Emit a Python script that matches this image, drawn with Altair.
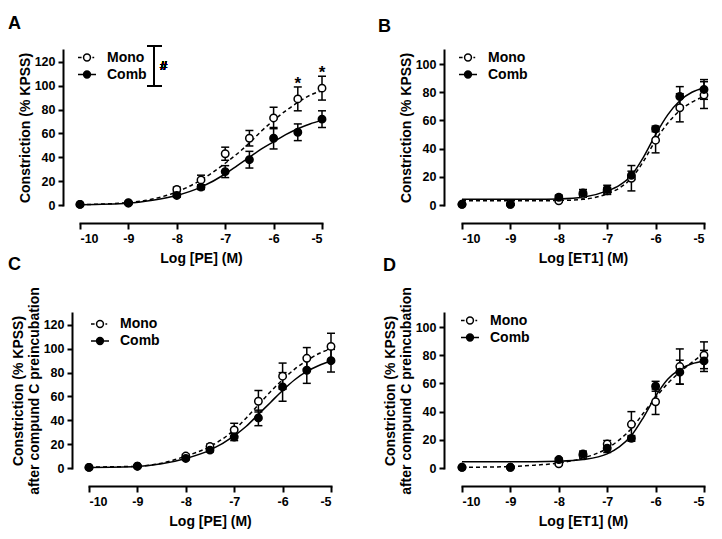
import altair as alt
import pandas as pd

FONT = "Liberation Sans"

# concentrations (log M) of the measured points
LOG_C = [-10, -9, -8, -7.5, -7, -6.5, -6, -5.5, -5]
# x positions at which the fitted curves were read
FIT_X = [-10, -9, -8.5, -8, -7.5, -7, -6.75, -6.5, -6.25, -6, -5.75, -5.5, -5.25, -5]

SERIES = ["Mono", "Comb"]

# Panel A : PE
A_MONO = [0.5, 2, 13, 21, 43, 56, 73, 89, 98]
A_MONO_SEM = [0.5, 1, 2, 4, 5.5, 6.5, 9, 10, 10]
A_COMB = [0.5, 1.5, 8, 15, 28, 38, 56, 61, 72]
A_COMB_SEM = [0.5, 1, 1.5, 2, 5, 7, 9, 7, 7]
A_MONO_FIT = [0.3, 2, 5, 11, 21, 35, 43, 52, 62, 71, 79, 86, 92, 96]
A_COMB_FIT = [0.3, 1.5, 4, 8, 15, 26, 33, 40, 47, 53, 59, 64, 68, 71]
A_STARS = [-5.5, -5]

# Panel B : ET1
B_MONO = [0.5, 0.5, 3, 7.5, 10, 19, 46, 69, 78]
B_MONO_SEM = [0.5, 0.5, 1, 2, 2.5, 9, 9, 10, 9.5]
B_COMB = [0.5, 0.5, 5.5, 8.5, 11, 21, 54, 77, 82]
B_COMB_SEM = [0.5, 0.5, 1.5, 2.5, 3, 3, 2, 7, 7]
B_MONO_FIT = [3, 3, 3, 3.2, 4, 8, 12, 19, 31, 46, 58, 67, 73, 77]
B_COMB_FIT = [4, 4, 4, 4.3, 5.5, 10, 14, 21, 34, 50, 64, 74, 80, 83]

# Panel C : PE after compound C
C_MONO = [0.5, 1.5, 10, 18, 32, 56, 77, 92, 102]
C_MONO_SEM = [0.5, 0.5, 1.5, 2, 5.5, 9, 11, 9, 11]
C_COMB = [0.5, 1.5, 8, 15, 26, 42, 68, 82, 90]
C_COMB_SEM = [0.5, 0.5, 1, 1.5, 3, 6.5, 12, 11, 9.5]
C_MONO_FIT = [0.8, 1.5, 4, 10, 18, 32, 42, 53, 64, 74, 83, 90, 96, 100]
C_COMB_FIT = [0.5, 1.3, 3.5, 8, 15, 27, 35, 45, 55, 65, 74, 81, 86, 90]

# Panel D : ET1 after compound C
D_MONO = [0.5, 0.5, 3, 9, 17, 31, 47, 72, 80]
D_MONO_SEM = [0.5, 0.5, 1, 2, 2.5, 9, 9, 12.5, 9.5]
D_COMB = [0.5, 0.5, 6, 10, 14, 21, 58, 68, 76]
D_COMB_SEM = [0.5, 0.5, 1, 2, 3, 2, 3.5, 8.5, 7.5]
D_MONO_FIT = [0.5, 1, 2, 3.5, 7, 14, 20, 28, 39, 50, 60, 68, 75, 81]
D_COMB_FIT = [4.5, 4.5, 4.5, 4.8, 6, 10, 15, 23, 36, 51, 63, 70, 74, 76]

X_TICKS = [-10, -9, -8, -7, -6, -5]

MONO_PATH = ("M-1,0H-0.6M-0.38,0A0.38,0.38,0,1,0,0.38,0"
             "A0.38,0.38,0,1,0,-0.38,0M0.6,0H0.8")
COMB_PATH = ("M-1,0H1M-0.38,0A0.38,0.38,0,1,0,0.38,0"
             "A0.38,0.38,0,1,0,-0.38,0")


def points_df(mono, mono_sem, comb, comb_sem):
    rows = []
    for s, vals, sems in (("Mono", mono, mono_sem), ("Comb", comb, comb_sem)):
        for x, v, e in zip(LOG_C, vals, sems):
            rows.append({"logc": x, "value": v, "lo": v - e, "hi": v + e, "series": s})
    return pd.DataFrame(rows)


def fit_df(mono_fit, comb_fit):
    rows = []
    for s, vals in (("Mono", mono_fit), ("Comb", comb_fit)):
        for x, v in zip(FIT_X, vals):
            rows.append({"logc": x, "value": v, "series": s})
    return pd.DataFrame(rows)


def panel(letter, title_dx, title_offset, pts, fit, ymax, ytitle, xtitle, width, xrange,
          yoffset, legend_x, legend_y, stars=None, bracket=False):
    xscale = alt.Scale(domain=[-10, -5], range=xrange, nice=False, zero=False)
    yscale = alt.Scale(domain=[0, ymax], nice=False, zero=False)
    yvals = list(range(0, ymax - 9, 20))
    xaxis = alt.Axis(values=X_TICKS, labelExpr="datum.value + ''", title=xtitle,
                     offset=18, tickSize=6, labelPadding=3, titlePadding=7,
                     labelOverlap=False)
    yaxis = alt.Axis(values=yvals, title=ytitle, offset=yoffset, tickSize=5,
                     labelPadding=3, titlePadding=2, titleLineHeight=16,
                     labelOverlap=False, tickCount=len(yvals))

    def X(f="logc"):
        return alt.X(f"{f}:Q", scale=xscale, axis=xaxis)

    def Y(f):
        return alt.Y(f"{f}:Q", scale=yscale, axis=yaxis)

    base = alt.Chart(pts)
    err = base.mark_rule(color="black", strokeWidth=1.5).encode(
        x=X(), y=Y("lo"), y2="hi:Q")
    cap_lo = base.mark_tick(color="black", thickness=1.5, size=8,
                            orient="horizontal", opacity=1).encode(x=X(), y=Y("lo"))
    cap_hi = base.mark_tick(color="black", thickness=1.5, size=8,
                            orient="horizontal", opacity=1).encode(x=X(), y=Y("hi"))
    fitc = alt.Chart(fit)
    mono_line = fitc.transform_filter("datum.series == 'Mono'").mark_line(
        color="black", strokeWidth=1.5, strokeDash=[4, 3], interpolate="monotone"
    ).encode(x=X(), y=Y("value"))
    comb_line = fitc.transform_filter("datum.series == 'Comb'").mark_line(
        color="black", strokeWidth=1.5, interpolate="monotone"
    ).encode(x=X(), y=Y("value"))
    dots = base.mark_circle(size=55, stroke="black", strokeWidth=1.5, opacity=1).encode(
        x=X(), y=Y("value"),
        fill=alt.condition("datum.series == 'Mono'", alt.value("white"), alt.value("black")))

    legend = alt.Legend(title=None, orient="none", legendX=legend_x, legendY=legend_y,
                        padding=0, rowPadding=0, labelOffset=10, labelFont=FONT,
                        labelFontSize=14, labelFontWeight="bold", labelColor="black",
                        symbolSize=324, symbolStrokeWidth=1.5, symbolOpacity=1)
    leg = base.transform_filter("false").mark_point(strokeWidth=1.5).encode(
        x=X(), y=Y("value"),
        shape=alt.Shape("series:N", scale=alt.Scale(domain=SERIES, range=[MONO_PATH, COMB_PATH]),
                        legend=legend),
        fill=alt.Fill("series:N", scale=alt.Scale(domain=SERIES, range=["white", "black"]),
                      legend=legend),
        stroke=alt.Stroke("series:N", scale=alt.Scale(domain=SERIES, range=["black", "black"]),
                          legend=legend))

    layers = [err, cap_lo, cap_hi, mono_line, comb_line, dots, leg]

    if stars is not None:
        star = base.transform_filter(
            alt.FieldOneOfPredicate(field="logc", oneOf=stars)
        ).transform_filter("datum.series == 'Mono'").mark_text(
            text="*", font=FONT, fontSize=17, fontWeight="bold", color="black",
            baseline="alphabetic", dy=2
        ).encode(x=X(), y=Y("hi"))
        layers.append(star)

    if bracket:
        vline = alt.Chart(pts).mark_rule(color="black", strokeWidth=1.5).encode(
            x=alt.value(74), y=alt.value(-4), y2=alt.value(36))
        top_cap = alt.Chart(pts).mark_rule(color="black", strokeWidth=1.5).encode(
            x=alt.value(67), x2=alt.value(82), y=alt.value(-4))
        bot_cap = alt.Chart(pts).mark_rule(color="black", strokeWidth=1.5).encode(
            x=alt.value(67), x2=alt.value(82), y=alt.value(36))
        hash_t = alt.Chart(pts).mark_text(
            text="#", font=FONT, fontSize=13, fontWeight="bold", color="black",
            align="left", baseline="middle").encode(x=alt.value(80), y=alt.value(16))
        layers += [vline, top_cap, bot_cap, hash_t]

    return alt.layer(*layers).properties(
        width=width, height=155,
        title=alt.TitleParams(letter, anchor="start", frame="group", dx=title_dx,
                              font=FONT, fontSize=18, fontWeight="bold",
                              color="black", offset=title_offset),
    )


pA = panel("A", -72, 12, points_df(A_MONO, A_MONO_SEM, A_COMB, A_COMB_SEM),
           fit_df(A_MONO_FIT, A_COMB_FIT), 130, "Constriction (% KPSS)", "Log [PE] (M)",
           242, [0, 242], 17, -3, -2.5, stars=A_STARS, bracket=True)
pB = panel("B", -84, 12, points_df(B_MONO, B_MONO_SEM, B_COMB, B_COMB_SEM),
           fit_df(B_MONO_FIT, B_COMB_FIT), 110, "Constriction (% KPSS)", "Log [ET1] (M)",
           242, [0, 242], 18, -4, -2.5)
pC = panel("C", -72, 13, points_df(C_MONO, C_MONO_SEM, C_COMB, C_COMB_SEM),
           fit_df(C_MONO_FIT, C_COMB_FIT), 130,
           ["Constriction (% KPSS)", "after compund C preincubation"], "Log [PE] (M)",
           251, [9, 251], 8, 10, 1)
pD = panel("D", -79, 12, points_df(D_MONO, D_MONO_SEM, D_COMB, D_COMB_SEM),
           fit_df(D_MONO_FIT, D_COMB_FIT), 110,
           ["Constriction (% KPSS)", "after compund C preincubation"], "Log [ET1] (M)",
           242, [0, 242], 18, -2, -2.5)

chart = alt.concat(
    pA, pB, pC, pD, columns=2, bounds="flush",
    spacing=alt.RowColnumber(row=108, column=131),
).resolve_scale(
    fill="independent", shape="independent", stroke="independent"
).resolve_legend(
    fill="independent", shape="independent", stroke="independent"
).properties(
    padding={"left": 0, "top": 7, "right": 0, "bottom": 0}
).configure_view(stroke=None).configure_axis(
    grid=False, domainColor="black", domainWidth=2, tickColor="black", tickWidth=2,
    labelFont=FONT, labelFontSize=12.5, labelFontWeight="bold", labelColor="black",
    titleFont=FONT, titleFontSize=14, titleFontWeight="bold", titleColor="black",
    domainCap="square")

chart.save("out.html", embed_options={"renderer": "svg", "actions": False})
